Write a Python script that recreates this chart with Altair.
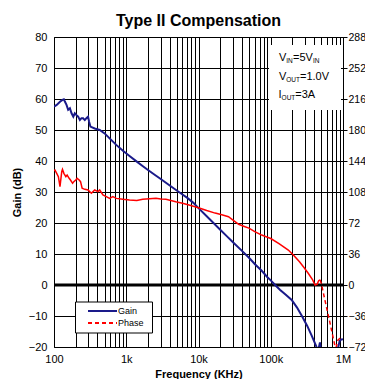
import altair as alt
import pandas as pd

# ---------------- data ----------------
freq_gain = [100, 109, 121, 131, 137, 142, 149, 157, 166, 175, 185, 194, 205, 216, 228, 240,
             253, 267, 281, 296, 306, 319, 366, 429, 502, 589, 727, 900, 1110, 1400, 1700,
             2000, 2500, 3000, 4000, 5000, 6000, 7000, 8500, 10000, 13000, 16000, 20000,
             25000, 30000, 40000, 50000, 61000, 75000, 90000, 100000, 115000, 135000,
             160000, 195000, 230000, 270000, 320000, 370000, 430000, 455000, 480000,
             500000, 600000, 700000, 800000, 850000, 900000, 950000, 1000000]
gain_db = [57.5, 58.1, 59.1, 59.7, 59.9, 59.1, 58.1, 56.5, 57.0, 55.4, 54.3, 55.4, 54.8, 54.3,
           53.2, 53.8, 53.8, 53.2, 53.8, 54.3, 52.7, 51.1, 50.5, 50.0, 48.9, 47.3, 45.2, 43.3,
           41.6, 39.8, 38.3, 37.1, 35.5, 34.2, 32.1, 30.5, 29.2, 28.1, 26.5, 24.8, 22.2, 20.1,
           17.8, 15.6, 13.8, 11.0, 8.8, 6.6, 4.6, 2.5, 1.5, 0.0, -1.6, -3.1, -4.8, -7.2, -10.0,
           -13.2, -16.4, -20.0, -21.0, -18.5, -22.0, -25.0, -24.0, -21.5, -20.5, -18.0, -17.6,
           -17.5]

freq_phase = [100, 103, 109, 115, 121, 128, 131, 137, 146, 152, 162, 169, 181, 188, 200, 209,
              223, 233, 245, 267, 296, 329, 366, 406, 429, 476, 529, 589, 653, 727, 900, 1110,
              1400, 1690, 2100, 2580, 3000, 3540, 4850, 6000, 7400, 10000, 13000, 17000, 21000,
              26000, 31000, 36000, 43000, 50000, 60000, 75000, 90000, 100000, 130000, 175000,
              210000, 250000, 290000, 330000, 380000, 410000, 440000, 460000, 480000, 500000,
              560000, 660000, 770000, 800000, 850000, 900000, 950000, 1000000]
phase_deg = [133.0, 133.5, 129.7, 125.8, 114.2, 131.6, 134.3, 129.7, 125.8, 127.7, 123.9, 121.9,
             118.1, 120.0, 121.9, 123.9, 121.9, 120.0, 112.3, 111.1, 110.3, 106.5, 110.3, 108.4,
             110.3, 104.5, 102.6, 100.6, 102.6, 100.6, 99.5, 98.7, 98.2, 99.5, 100.3, 100.6,
             99.8, 99.5, 96.7, 95.0, 92.9, 89.8, 86.5, 83.5, 81.5, 79.3, 74.5, 70.5, 68.0, 66.0,
             62.0, 58.0, 55.5, 54.0, 48.0, 40.6, 34.0, 27.0, 20.0, 13.6, 6.0, 0.0, 1.0, 5.0, 6.0,
             2.0, -17.0, -44.0, -70.0, -73.0, -64.0, -62.0, -62.0, -62.0]

x_ticks = [m * 10 ** e for e in range(2, 6) for m in range(1, 10)] + [1000000]
x_labels = {100: "100", 1000: "1k", 10000: "10k", 100000: "100k", 1000000: "1M"}
gain_ticks = list(range(-20, 81, 10))
phase_ticks = list(range(-72, 289, 36))
series_names = ["Gain", "Phase"]
chart_title = "Type II Compensation"
x_title = "Frequency (KHz)"
y_title = "Gain (dB)"
annotation = [
    [("V", False), ("IN", True), ("=5V", False), ("IN", True)],
    [("V", False), ("OUT", True), ("=1.0V", False)],
    [("I", False), ("OUT", True), ("=3A", False)],
]

# ---------------- layout ----------------
FONT = "Liberation Sans"
W, H = 289, 310
GAIN_COLOR = "#1a1a8a"
PHASE_COLOR = "#ff0000"

gain_df = pd.DataFrame({"f": freq_gain, "v": gain_db})
phase_df = pd.DataFrame({"f": freq_phase, "p": phase_deg})

label_expr = " : ".join(f"datum.value == {k} ? '{v}'" for k, v in x_labels.items()) + " : ''"

x_enc = alt.X(
    "f:Q",
    scale=alt.Scale(type="log", domain=[100, 1000000], nice=False),
    axis=alt.Axis(values=x_ticks, labelExpr=label_expr, title=x_title, grid=True,
                  gridColor="#000000", gridWidth=1, tickSize=0, labelPadding=6,
                  labelFlush=False, labelOverlap=False, labelFontSize=11,
                  labelColor="#000", titleFontSize=11, titleFontWeight="bold",
                  titlePadding=4, domain=False, labelFont=FONT, titleFont=FONT),
)

gain_y = alt.Y(
    "v:Q",
    scale=alt.Scale(domain=[-20, 80], nice=False, zero=False),
    axis=alt.Axis(values=gain_ticks, title=y_title, grid=True, gridColor="#000000",
                  gridWidth=1, tickSize=0, labelPadding=7, labelFontSize=11,
                  labelColor="#000", titleFontSize=11, titleFontWeight="bold",
                  titlePadding=6, domain=False, labelFont=FONT, titleFont=FONT),
)

phase_y = alt.Y(
    "p:Q",
    scale=alt.Scale(domain=[-72, 288], nice=False, zero=False),
    axis=alt.Axis(orient="right", values=phase_ticks, title=None, grid=False,
                  tickSize=4, tickColor="#000", labelPadding=1, labelFontSize=10.5,
                  labelColor="#000", domain=False, labelFont=FONT),
)

one = pd.DataFrame({"a": [0]})

zero_rule = alt.Chart(pd.DataFrame({"v": [0]})).mark_rule(
    color="black", strokeWidth=3).encode(y=gain_y)

# annotation box (white panel covering the grid)
box = alt.Chart(one).mark_rect(color="white").encode(
    x=alt.value(215), x2=alt.value(287), y=alt.value(8), y2=alt.value(73))

piece_x = [[225, 232.3, 239, 259], [225, 232.3, 246], [224.5, 227.6, 241.3]]
line_base = [24, 43, 61]
texts = []
for li, line in enumerate(annotation):
    for pi, (txt, sub) in enumerate(line):
        texts.append(
            alt.Chart(one).mark_text(text=txt, align="left", baseline="alphabetic",
                                     font=FONT, fontSize=6.5 if sub else 11, color="black")
            .encode(x=alt.value(piece_x[li][pi]),
                    y=alt.value(line_base[li] + (2 if sub else 0)))
        )

# legend box
leg_box = alt.Chart(one).mark_rect(color="white", stroke="black", strokeWidth=1).encode(
    x=alt.value(21.5), x2=alt.value(98.5), y=alt.value(265), y2=alt.value(296))
leg_gain = alt.Chart(one).mark_rule(color=GAIN_COLOR, strokeWidth=2).encode(
    x=alt.value(34), x2=alt.value(63), y=alt.value(274))
leg_phase = alt.Chart(one).mark_rule(color=PHASE_COLOR, strokeWidth=2,
                                     strokeDash=[4, 3]).encode(
    x=alt.value(34), x2=alt.value(63), y=alt.value(286))
leg_t1 = alt.Chart(one).mark_text(text=series_names[0], align="left", baseline="middle",
                                  font=FONT, fontSize=9, color="black").encode(
    x=alt.value(64), y=alt.value(274))
leg_t2 = alt.Chart(one).mark_text(text=series_names[1], align="left", baseline="middle",
                                  font=FONT, fontSize=9, color="black").encode(
    x=alt.value(64), y=alt.value(286))

gain_line = alt.Chart(gain_df).mark_line(strokeWidth=2, color=GAIN_COLOR, clip=True).encode(
    x=x_enc, y=gain_y)

phase_solid = alt.Chart(phase_df).transform_filter("datum.f <= 480000").mark_line(
    strokeWidth=1.5, color=PHASE_COLOR, clip=True).encode(x=x_enc, y=phase_y)
phase_dashed = alt.Chart(phase_df).transform_filter("datum.f >= 480000").mark_line(
    strokeWidth=1.5, color=PHASE_COLOR, strokeDash=[4, 3], clip=True).encode(
    x=x_enc, y=phase_y)

left = alt.layer(box, zero_rule, gain_line, *texts)
right = alt.layer(phase_solid, phase_dashed)
legend = alt.layer(leg_box, leg_gain, leg_phase, leg_t1, leg_t2)

chart = (
    alt.layer(left, right, legend)
    .resolve_scale(y="independent")
    .properties(
        width=W, height=H,
        title=alt.TitleParams(chart_title, fontSize=16, fontWeight="bold", font=FONT,
                              color="black", offset=2, anchor="middle"),
        autosize=alt.AutoSizeParams(type="none"),
        padding={"left": 46, "top": 29, "right": 22, "bottom": 36},
    )
    .configure_view(stroke="black", strokeWidth=1)
)

chart.save("out.html", embed_options={"renderer": "svg", "actions": False})
